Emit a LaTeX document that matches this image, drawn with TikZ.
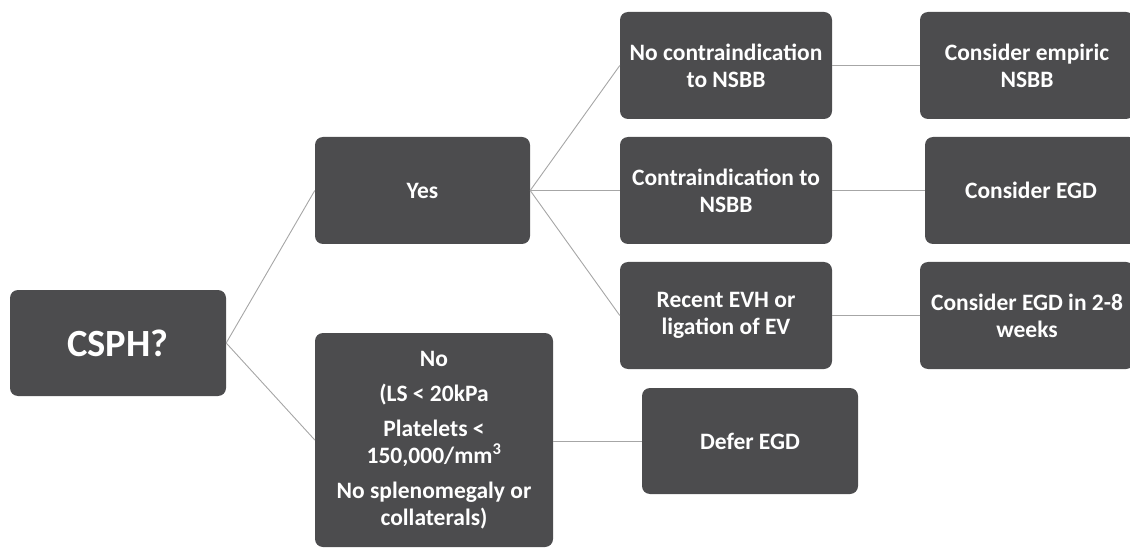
\documentclass[tikz,border=0pt]{standalone}
\usepackage{fontspec}
\setmainfont{Carlito}
\definecolor{boxgray}{HTML}{4C4C4E}
\definecolor{linegray}{HTML}{A6A6A6}
\begin{document}
\begin{tikzpicture}[x=1pt,y=-1pt,
  box/.style={fill=boxgray, rounded corners=8pt, text=white,
    font=\bfseries\fontsize{23.5}{27}\selectfont, align=center, inner sep=0pt},
  link/.style={draw=linegray, line width=0.9pt}]
\useasboundingbox (0,0) rectangle (1130,548);
\begin{scope}
\clip (0,0) rectangle (1130,548);
\node[box, minimum width=216pt, minimum height=106pt, font=\bfseries\fontsize{38.5}{44}\selectfont] (cs) at (118,343) {CSPH?};
\node[box, minimum width=215pt, minimum height=107pt] (yes) at (422.5,190.5) {Yes};
\node[box, minimum width=238pt, minimum height=214pt] (no) at (434,440)
  {No\\[8pt](LS < 20kPa\\[8pt]Platelets <\\150,000/mm\textsuperscript{3}\\[8pt]No splenomegaly or\\collaterals)};
\node[box, minimum width=212pt, minimum height=107pt] (nc) at (726,65.5) {No contraindication\\to NSBB};
\node[box, minimum width=212pt, minimum height=107pt] (ci) at (726,190.5) {Contraindication to\\NSBB};
\node[box, minimum width=212pt, minimum height=107pt] (re) at (726,315.5) {Recent EVH or\\ligation of EV};
\node[box, minimum width=214pt, minimum height=107pt] (emp) at (1027,65.5) {Consider empiric\\NSBB};
\node[box, minimum width=212pt, minimum height=107pt] (egd) at (1031,190.5) {Consider EGD};
\node[box, minimum width=214pt, minimum height=107pt] (egd28) at (1027,315.5) {Consider EGD in 2-8\\weeks};
\node[box, minimum width=216pt, minimum height=106pt] (def) at (750,441) {Defer EGD};
\end{scope}
\draw[link] (cs.east) -- (yes.west);
\draw[link] (cs.east) -- (no.west);
\draw[link] (yes.east) -- (nc.west);
\draw[link] (yes.east) -- (ci.west);
\draw[link] (yes.east) -- (re.west);
\draw[link] (nc.east) -- (nc.east -| emp.west);
\draw[link] (ci.east) -- (ci.east -| egd.west);
\draw[link] (re.east) -- (re.east -| egd28.west);
\draw[link] (no.east |- def.west) -- (def.west);
\end{tikzpicture}
\end{document}
